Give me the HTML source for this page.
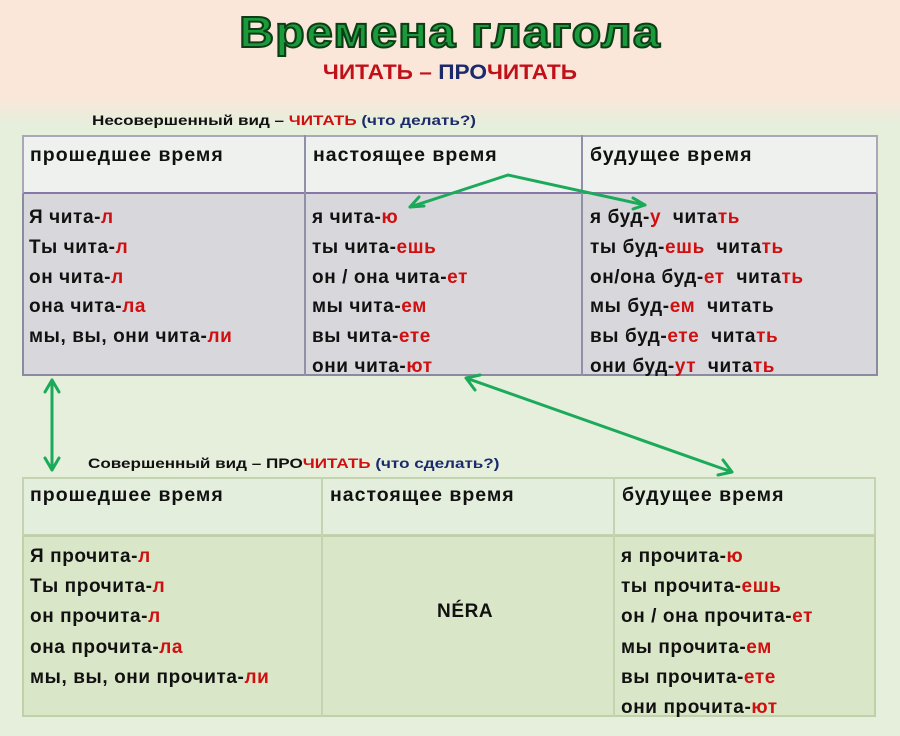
<!DOCTYPE html><html><head><meta charset="utf-8"><style>
body{margin:0;width:900px;height:736px;overflow:hidden;position:relative;font-family:"Liberation Sans","DejaVu Sans",sans-serif;background:linear-gradient(#fbe7da 0,#fbe7da 95px,#e6eedc 125px,#e6eedc 100%);}
.a{position:absolute;white-space:nowrap}
.t{position:absolute;font-weight:bold;font-size:19px;letter-spacing:0.6px;color:#111;white-space:nowrap;line-height:20px}
.h{font-size:19.5px;letter-spacing:1px}
.r{color:#d01010}
.box{position:absolute;box-sizing:border-box}
</style></head><body>
<div class="a" style="left:0;width:900px;top:8px;text-align:center;font-size:44px;font-weight:bold;color:#1a9a3a;-webkit-text-stroke:2px #0c3d16;letter-spacing:1px;transform:scaleX(1.1)">Времена глагола</div>
<div class="a" style="left:0;width:900px;top:61px;text-align:center;font-size:21px;font-weight:bold;color:#c01018;transform:scaleX(1.08)">ЧИТАТЬ – <span style="color:#1a2a6a">ПРО</span>ЧИТАТЬ</div>
<div class="a" style="left:92px;top:112px;font-size:14px;font-weight:bold;color:#111;transform:scaleX(1.22);transform-origin:left">Несовершенный вид – <span class="r">ЧИТАТЬ</span> <span style="color:#1a2a6a">(что делать?)</span></div>

<div class="box" style="left:22px;top:135px;width:856px;height:60px;background:#eef1ee;border:2px solid #aaa8b8;border-bottom:3px solid #8878a8"></div>
<div class="box" style="left:22px;top:194px;width:856px;height:182px;background:#d8d7db;border:2px solid #8c8aa0;border-top:none"></div>
<div class="box" style="left:304px;top:135px;width:2px;height:241px;background:#9090a8"></div>
<div class="box" style="left:581px;top:135px;width:2px;height:241px;background:#9090a8"></div>
<div class="t h" style="left:30px;top:145px">прошедшее время</div>
<div class="t h" style="left:313px;top:145px">настоящее время</div>
<div class="t h" style="left:590px;top:145px">будущее время</div>

<div class="t" style="left:29px;top:203px;line-height:29.8px">Я чита-<span class="r">л</span><br>Ты чита-<span class="r">л</span><br>он чита-<span class="r">л</span><br>она чита-<span class="r">ла</span><br>мы, вы, они чита-<span class="r">ли</span></div>
<div class="t" style="left:312px;top:203px;line-height:29.8px">я чита-<span class="r">ю</span><br>ты чита-<span class="r">ешь</span><br>он / она чита-<span class="r">ет</span><br>мы чита-<span class="r">ем</span><br>вы чита-<span class="r">ете</span><br>они чита-<span class="r">ют</span></div>
<div class="t" style="left:590px;top:203px;line-height:29.8px">я буд-<span class="r">у</span>&nbsp; чита<span class="r">ть</span><br>ты буд-<span class="r">ешь</span>&nbsp; чита<span class="r">ть</span><br>он/она буд-<span class="r">ет</span>&nbsp; чита<span class="r">ть</span><br>мы буд-<span class="r">ем</span>&nbsp; читать<br>вы буд-<span class="r">ете</span>&nbsp; чита<span class="r">ть</span><br>они буд-<span class="r">ут</span>&nbsp; чита<span class="r">ть</span></div>

<div class="a" style="left:88px;top:455px;font-size:14px;font-weight:bold;color:#111;transform:scaleX(1.22);transform-origin:left">Совершенный вид – ПРО<span class="r">ЧИТАТЬ</span> <span style="color:#1a2a6a">(что сделать?)</span></div>

<div class="box" style="left:22px;top:477px;width:854px;height:59px;background:#e4eedd;border:2px solid #c4d4b0"></div>
<div class="box" style="left:22px;top:535px;width:854px;height:182px;background:#d9e6c8;border:2px solid #c0d0a8"></div>
<div class="box" style="left:321px;top:477px;width:2px;height:240px;background:#c4d4b0"></div>
<div class="box" style="left:613px;top:477px;width:2px;height:240px;background:#c4d4b0"></div>
<div class="t h" style="left:30px;top:485px">прошедшее время</div>
<div class="t h" style="left:330px;top:485px">настоящее время</div>
<div class="t h" style="left:622px;top:485px">будущее время</div>
<div class="t" style="left:30px;top:542px;line-height:30.2px">Я прочита-<span class="r">л</span><br>Ты прочита-<span class="r">л</span><br>он прочита-<span class="r">л</span><br>она прочита-<span class="r">ла</span><br>мы, вы, они прочита-<span class="r">ли</span></div>
<div class="t" style="left:437px;top:602px">NÉRA</div>
<div class="t" style="left:621px;top:542px;line-height:30.2px">я прочита-<span class="r">ю</span><br>ты прочита-<span class="r">ешь</span><br>он / она прочита-<span class="r">ет</span><br>мы прочита-<span class="r">ем</span><br>вы прочита-<span class="r">ете</span><br>они прочита-<span class="r">ют</span></div>

<svg width="900" height="736" style="position:absolute;left:0;top:0" fill="none" stroke="#1aaa5a" stroke-width="3" stroke-linecap="round">
<path d="M410 207 L508 175 L645 205"/>
<path d="M410 207 l14 -1 M410 207 l9 -10" />
<path d="M645 205 l-12 -7 M645 205 l-12 4"/>
<path d="M52 380 L52 470 M52 380 l-7 12 M52 380 l7 12 M52 470 l-7 -12 M52 470 l7 -12"/>
<path d="M466 378 L732 472 M466 378 l9 12 M466 378 l14 -3 M732 472 l-14 3 M732 472 l-9 -12"/>
</svg>
</body></html>
